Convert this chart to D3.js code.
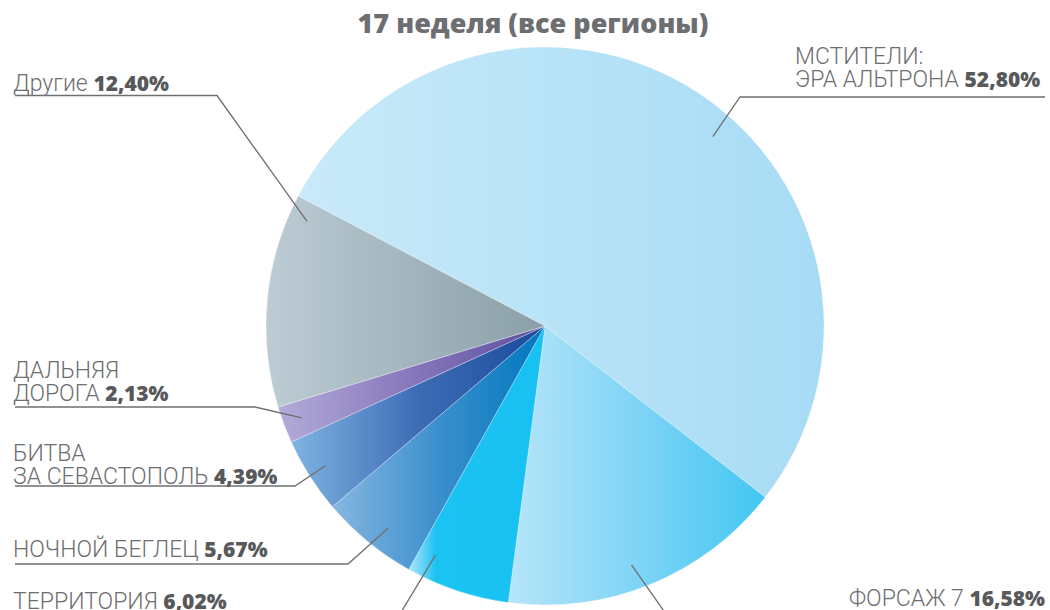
<!DOCTYPE html>
<meta charset="utf-8">
<style>
body { margin: 0; background: #fff; }
.title { font-family: "Open Sans", sans-serif; font-weight: 800; font-size: 27px; fill: #6d6e71; }
.lbl { font-family: Roboto, sans-serif; font-weight: 300; font-size: 23px; fill: #6d6e71; }
.lbl .num { font-family: "Open Sans", sans-serif; font-weight: 800; font-size: 21px; fill: #58595b; }
.leader { fill: none; stroke: #6f6f6f; stroke-width: 1.3; }
</style>
<svg width="1050" height="610"></svg>
<script src="https://d3js.org/d3.v7.min.js"></script>
<script>
// доли сборов, % (по часовой стрелке от "Мстителей")
var films = [
  ['МСТИТЕЛИ:', 'ЭРА АЛЬТРОНА'],
  ['ФОРСАЖ 7'],
  ['ТЕРРИТОРИЯ'],
  ['НОЧНОЙ БЕГЛЕЦ'],
  ['БИТВА', 'ЗА СЕВАСТОПОЛЬ'],
  ['ДАЛЬНЯЯ', 'ДОРОГА'],
  ['Другие']
];
var shares = [52.80, 16.58, 6.02, 5.67, 4.39, 2.13, 12.40];

// цвета градиента (слева светлее, справа насыщеннее)
var lightColors = ['#c8eaf9', '#b6e5f9', '#b0e4f9', '#86b7e0', '#80b4e1', '#b3abd9', '#bdccd4'];
var midColors   = ['#b8e3f7', '#7fd4f6', '#1bc3f2', '#3b8fcd', '#3d6cb6', '#8677bb', '#a3b5be'];
var darkColors  = ['#a7dbf5', '#42c7f3', '#17c1f1', '#0077bf', '#1b4a9c', '#5b4f9f', '#8a9fa9'];

// подписи: x, базовая линия последней строки, выравнивание, подчёркивание, точка выноски
var labelPos = [
  {x: 795, y: 87, anchor: 'start', uy: 97, ux0: 1045, ux1: 740, f: 0.546, r: 253},
  {x: 1045, y: 606, anchor: 'end', uy: 614, ux0: 1045, ux1: 666, f: 0.54, r: 254},
  {x: 13, y: 609, anchor: 'start', uy: 614, ux0: 15, ux1: 400, f: 0.83, r: 254},
  {x: 13, y: 557, anchor: 'start', uy: 564, ux0: 15, ux1: 348, f: 0.42, r: 256},
  {x: 13, y: 484, anchor: 'start', uy: 486, ux0: 15, ux1: 295, f: 0.5, r: 260},
  {x: 13, y: 401, anchor: 'start', uy: 407, ux0: 15, ux1: 255, f: 0.5, r: 260},
  {x: 13, y: 91, anchor: 'start', uy: 95.5, ux0: 15, ux1: 217, f: 0.91, r: 260}
];

var svg = d3.select('svg');
var cx = 545, cy = 326, radius = 279;
var start = -62.24 * Math.PI / 180;

var ru = d3.formatLocale({decimal: ',', thousands: ' ', grouping: [3], currency: ['', '']});
var pct = function (v) { return ru.format('.2f')(v) + '%'; };

svg.append('text')
  .attr('class', 'title')
  .attr('x', 533)
  .attr('y', 33)
  .attr('text-anchor', 'middle')
  .text('17 неделя (все регионы)');

var defs = svg.append('defs');
shares.forEach(function (d, i) {
  var lg = defs.append('linearGradient')
    .attr('id', 'grad' + i)
    .attr('x1', 0).attr('x2', 1).attr('y1', 0).attr('y2', 0);
  lg.append('stop').attr('offset', 0).attr('stop-color', lightColors[i]);
  lg.append('stop').attr('offset', i === 2 ? 0.2 : 0.5).attr('stop-color', midColors[i]);
  lg.append('stop').attr('offset', 1).attr('stop-color', darkColors[i]);
});

var pie = d3.pie().sort(null).value(function (d) { return d; })
  .startAngle(start).endAngle(start + 2 * Math.PI);
var arc = d3.arc().innerRadius(0).outerRadius(radius);
var arcs = pie(shares);

var g = svg.append('g').attr('transform', `translate(${cx}, ${cy})`);
g.selectAll('path')
  .data(arcs)
  .enter()
  .append('path')
  .attr('d', arc)
  .attr('fill', function (d, i) { return 'url(#grad' + i + ')'; })
  .attr('stroke', '#ffffff')
  .attr('stroke-opacity', 0.5)
  .attr('stroke-width', 0.6);

// выноски
arcs.forEach(function (d, i) {
  var p = labelPos[i];
  var a = d.startAngle + (d.endAngle - d.startAngle) * p.f;
  var ax = cx + p.r * Math.sin(a);
  var ay = cy - p.r * Math.cos(a);
  svg.append('path')
    .attr('class', 'leader')
    .attr('d', d3.line()([[p.ux0, p.uy], [p.ux1, p.uy], [ax, ay]]));

  var t = svg.append('text')
    .attr('class', 'lbl')
    .attr('text-anchor', p.anchor);
  var lines = films[i];
  lines.forEach(function (s, j) {
    t.append('tspan')
      .attr('x', p.x)
      .attr('y', p.y - (lines.length - 1 - j) * 23.5)
      .text(s);
    if (j === lines.length - 1) {
      t.append('tspan').text(' ');
      t.append('tspan').attr('class', 'num').text(pct(shares[i]));
    }
  });
});
</script>
